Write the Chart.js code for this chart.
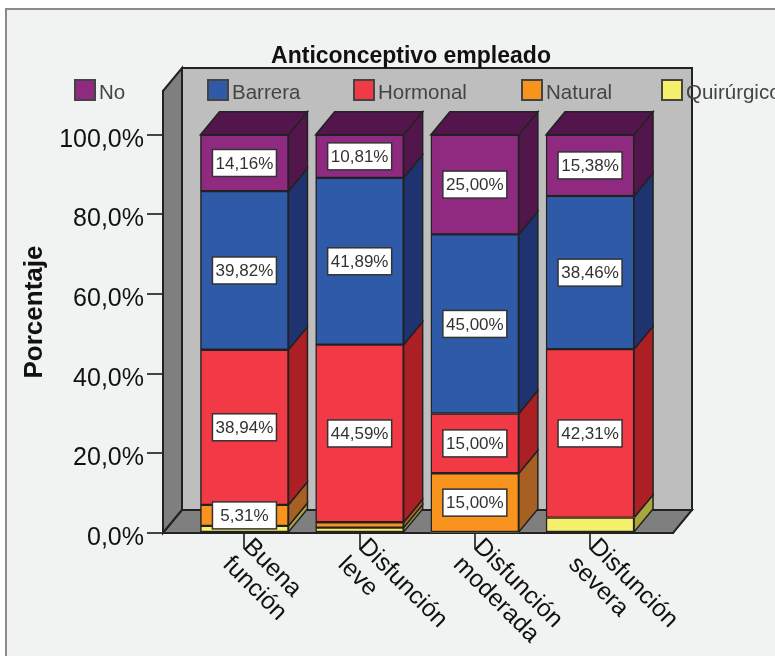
<!DOCTYPE html>
<html>
<head>
<meta charset="utf-8">
<title>Anticonceptivo empleado</title>
<script src="https://cdn.jsdelivr.net/npm/chart.js@4"></script>
<style>
  html, body { margin: 0; background: #fff; overflow: hidden; }
  #frame { position: absolute; left: 5px; top: 8px; width: 800px; height: 700px; background: #f1f3f3; border: 2px solid #8a8a8a; box-sizing: border-box; }
  #sketch { position: absolute; left: 0; top: 0; }
</style>
</head>
<body>
<div id="frame"></div>
<canvas id="sketch" width="775" height="656"></canvas>
<script>
const categories = [['Buena', 'función'], ['Disfunción', 'leve'], ['Disfunción', 'moderada'], ['Disfunción', 'severa']];

const quirurgico = [1.77, 1.35, 0, 3.85];
const natural = [5.31, 1.35, 15.00, 0];
const hormonal = [38.94, 44.59, 15.00, 42.31];
const barrera = [39.82, 41.89, 45.00, 38.46];
const no = [14.16, 10.81, 25.00, 15.38];

const yTicks = [0, 20, 40, 60, 80, 100];
const legendX = { No: 75, Barrera: 208, Hormonal: 354, Natural: 522, 'Quirúrgico': 662 };

const font = '"Liberation Sans", Arial, sans-serif';
const DX = 19, DY = 23;   // depth of the fake 3d
const LINE = '#222';

function series(label, values, color, side) {
    return {
        label: label,
        data: values.map((v, i) => ({ x: i, y: v })),
        backgroundColor: color,
        sideColor: side,
        borderColor: LINE,
        borderWidth: ctx => (ctx.raw.y > 0 ? 1.5 : 0),
        borderSkipped: false,
        barThickness: 88
    };
}

const datasets = [
    series('Quirúrgico', quirurgico, '#f5ef6c', '#a9a63f'),
    series('Natural', natural, '#f8941d', '#a85f22'),
    series('Hormonal', hormonal, '#f13a45', '#ac1f24'),
    series('Barrera', barrera, '#2f5aa8', '#1f3370'),
    series('No', no, '#8f2a80', '#52154c')
];

function poly(ctx, pts, fill, width) {
    ctx.beginPath();
    pts.forEach((p, i) => (i ? ctx.lineTo(p[0], p[1]) : ctx.moveTo(p[0], p[1])));
    ctx.closePath();
    ctx.fillStyle = fill;
    ctx.fill();
    ctx.strokeStyle = LINE;
    ctx.lineWidth = width;
    ctx.stroke();
}

// back wall, side wall and floor
const wallsPlugin = {
    id: 'walls',
    beforeDraw(chart) {
        const { ctx, chartArea: a } = chart;
        poly(ctx, [[a.left + DX, a.top - DY], [a.right + DX, a.top - DY], [a.right + DX, a.bottom - DY], [a.left + DX, a.bottom - DY]], '#bebebe', 2);
        poly(ctx, [[a.left, a.top], [a.left + DX, a.top - DY], [a.left + DX, a.bottom - DY], [a.left, a.bottom]], '#7f7f7f', 2);
        poly(ctx, [[a.left, a.bottom], [a.left + DX, a.bottom - DY], [a.right + DX, a.bottom - DY], [a.right, a.bottom]], '#7f7f7f', 2);
    }
};

// sides and tops of the bars
const depthPlugin = {
    id: 'depth',
    beforeDatasetsDraw(chart) {
        const ctx = chart.ctx;
        chart.data.datasets.forEach((ds, d) => {
            chart.getDatasetMeta(d).data.forEach((bar, i) => {
                if (ds.data[i].y <= 0) return;
                const r = bar.x + bar.width / 2, l = bar.x - bar.width / 2;
                poly(ctx, [[r, bar.y], [r + DX, bar.y - DY], [r + DX, bar.base - DY], [r, bar.base]], ds.sideColor, 1.5);
                if (d === chart.data.datasets.length - 1) {
                    poly(ctx, [[l, bar.y], [l + DX, bar.y - DY], [r + DX, bar.y - DY], [r, bar.y]], ds.sideColor, 1.5);
                }
            });
        });
    }
};

const textPlugin = {
    id: 'texts',
    afterDraw(chart) {
        const ctx = chart.ctx;
        ctx.save();

        // value labels, only the ones that fit
        ctx.font = '17px ' + font;
        ctx.textAlign = 'center';
        ctx.textBaseline = 'middle';
        chart.data.datasets.forEach((ds, d) => {
            chart.getDatasetMeta(d).data.forEach((bar, i) => {
                const v = ds.data[i].y;
                if (v < 5) return;
                const cy = (bar.y + bar.base) / 2;
                ctx.fillStyle = '#fff';
                ctx.strokeStyle = '#333';
                ctx.lineWidth = 1.5;
                ctx.fillRect(bar.x - 32, cy - 13.5, 64, 27);
                ctx.strokeRect(bar.x - 32, cy - 13.5, 64, 27);
                ctx.fillStyle = '#333';
                ctx.fillText(v.toFixed(2).replace('.', ',') + '%', bar.x, cy + 1);
            });
        });

        // title
        ctx.fillStyle = '#111';
        ctx.font = 'bold 23px ' + font;
        ctx.textBaseline = 'alphabetic';
        ctx.fillText('Anticonceptivo empleado', 411, 63);

        // legend
        ctx.font = '20.5px ' + font;
        ctx.textAlign = 'left';
        ['No', 'Barrera', 'Hormonal', 'Natural', 'Quirúrgico'].forEach(name => {
            const ds = chart.data.datasets.find(s => s.label === name);
            const x = legendX[name];
            ctx.fillStyle = ds.backgroundColor;
            ctx.strokeStyle = '#444';
            ctx.lineWidth = 2;
            ctx.fillRect(x, 80, 20, 20);
            ctx.strokeRect(x, 80, 20, 20);
            ctx.fillStyle = '#444';
            ctx.fillText(name, x + 24, 99);
        });

        // x labels go down to the right, the library only rotates them the other way
        const xs = chart.scales.x;
        ctx.fillStyle = '#111';
        ctx.font = '24.5px ' + font;
        categories.forEach((lines, i) => {
            ctx.save();
            ctx.translate(xs.getPixelForValue(i), xs.top);
            ctx.rotate(Math.PI / 4);
            lines.forEach((t, n) => ctx.fillText(t, 9 - n * 2, 12 + n * 27));
            ctx.restore();
        });
        ctx.restore();
    }
};

new Chart(document.getElementById('sketch'), {
    type: 'bar',
    data: { datasets: datasets },
    plugins: [wallsPlugin, depthPlugin, textPlugin],
    options: {
        responsive: false,
        animation: false,
        devicePixelRatio: 1,
        layout: { padding: { top: 91, right: 102, bottom: 0, left: 0 } },
        plugins: { legend: { display: false }, tooltip: { enabled: false } },
        scales: {
            x: {
                type: 'linear',
                stacked: true,
                offset: false,
                min: -0.707,
                max: 3.72,
                afterFit: s => { s.height = 123; },
                afterBuildTicks: s => { s.ticks = categories.map((c, i) => ({ value: i })); },
                border: { color: LINE, width: 2 },
                grid: { offset: false, drawOnChartArea: false, color: '#444', lineWidth: 2, tickLength: 16 },
                ticks: { display: false }
            },
            y: {
                stacked: true,
                min: 0,
                max: 111,
                afterFit: s => { s.width = 163; },
                afterBuildTicks: s => { s.ticks = yTicks.map(v => ({ value: v })); },
                border: { color: LINE, width: 2 },
                grid: { drawOnChartArea: false, color: '#444', lineWidth: 2, tickLength: 16 },
                title: { display: true, text: 'Porcentaje', color: '#111', font: { family: font, size: 26, weight: 'bold' }, padding: { top: 19, bottom: 0 } },
                ticks: {
                    color: '#111',
                    padding: 3,
                    font: { family: font, size: 25, lineHeight: 0.4 },
                    // blank first line pushes the text a little below its tick, as in the original
                    callback: v => ['', v.toFixed(1).replace('.', ',') + '%']
                }
            }
        }
    }
});
</script>
</body>
</html>
